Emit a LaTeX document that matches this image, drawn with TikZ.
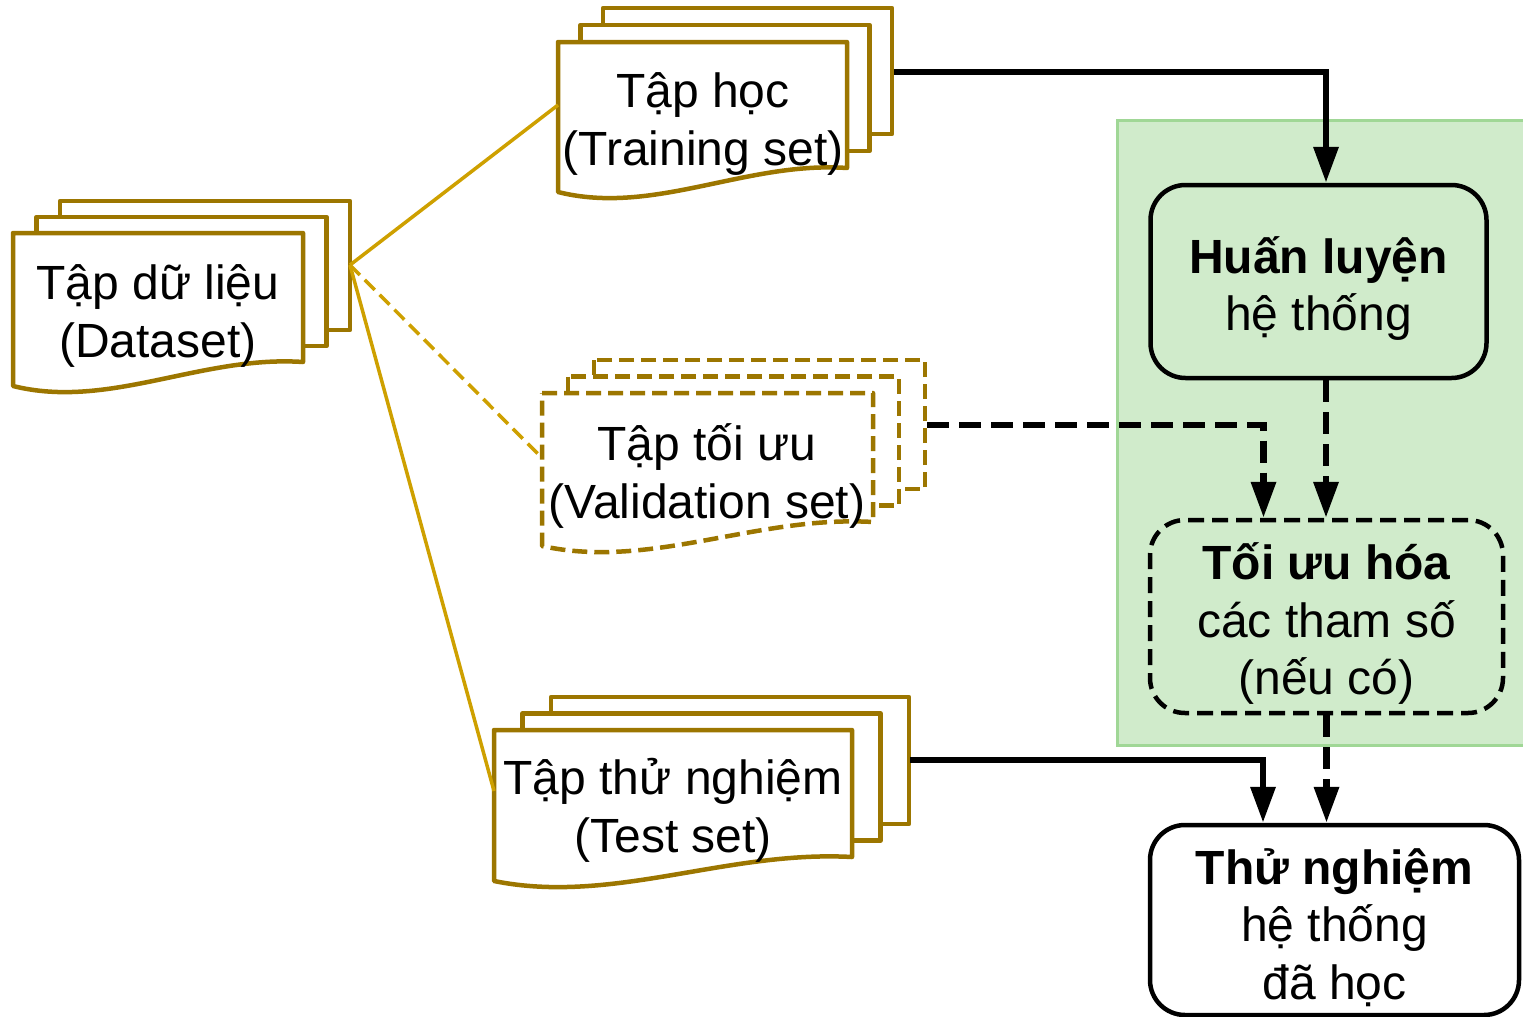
\documentclass[tikz,border=0pt]{standalone}
\usepackage{fontspec}
\setmainfont{Liberation Sans}
\usetikzlibrary{arrows.meta}
\definecolor{docgold}{RGB}{156,118,0}
\definecolor{linkgold}{RGB}{206,160,0}
\definecolor{zonefill}{RGB}{208,235,203}
\definecolor{zoneedge}{RGB}{160,215,150}
% x0 y0 w h dx dy style
\newcommand\multidoc[7]{%
  \draw[#7] ({#1+2*#5},{#2-2*#6}) rectangle ++(#3,#4);
  \draw[#7] ({#1+#5},{#2-#6}) rectangle ++(#3,#4);
  \draw[#7] (#1,#2) -- ++(#3,0) -- ++(0,#4)
     .. controls ({#1+0.65*#3},{#2+#4-7}) and ({#1+0.33*#3},{#2+#4+48}) .. (#1,{#2+#4+24}) -- cycle;
}
\newcommand\topstrut{\rule{0pt}{51pt}}
\tikzset{
  docline/.style={draw=docgold, line width=4.5pt, fill=white, line join=round},
  docdash/.style={docline, dash pattern=on 15pt off 7pt},
  txt/.style={font=\fontsize{48}{57.6}\selectfont, align=center, inner sep=0pt},
  link/.style={draw=linkgold, line width=3.5pt},
  linkdash/.style={link, dash pattern=on 14pt off 7pt},
  flow/.style={draw=black, line width=6.5pt, -{Triangle[length=36pt,width=24pt]}},
  flowdash/.style={flow, dash pattern=on 22pt off 10pt},
  stage/.style={draw=black, line width=4.5pt, rounded corners=35pt, inner sep=0pt,
    font=\fontsize{48}{57.6}\selectfont, align=center},
}
\begin{document}
\begin{tikzpicture}[x=1pt,y=-1pt]
\useasboundingbox (0,0) rectangle (1523,1017);
% green zone
\path[draw=zoneedge, fill=zonefill, line width=3pt] (1117,120) rectangle (1530,745);
% document stacks
\multidoc{13}{233}{290}{129}{23.5}{16}{docline}
\multidoc{558}{42}{289}{126}{22.5}{17}{docline}
\multidoc{542}{393}{331}{129}{26}{16.5}{docdash}
\multidoc{494}{730}{358}{127}{28.5}{16.5}{docline}
\node[txt] (ds) at (158,316) {Tập dữ liệu\\(Dataset)};
\node[txt] (tr) at (703,124) {Tập học\\(Training set)};
\node[txt] (va) at (707,476) {Tập tối ưu\\(Validation set)};
\node[txt] (te) at (673,810.5) {Tập thử nghiệm\\(Test set)};
% connection points on the stacks
\coordinate (ds-out) at (350,265);
\coordinate (tr-in) at (558,105);
\coordinate (va-in) at (542,458);
\coordinate (te-in) at (494,791);
\coordinate (tr-out) at (894,72);
\coordinate (va-out) at (927,425);
\coordinate (te-out) at (910,760);
% split links
\draw[link] (ds-out) -- (tr-in);
\draw[linkdash] (ds-out) -- (va-in);
\draw[link] (ds-out) -- (te-in);
% stages
\node[stage, minimum width=336pt, minimum height=193pt] (hl) at (1318.5,281.5)
  {\topstrut\bfseries Huấn luyện\\hệ thống};
\node[stage, dash pattern=on 16pt off 8pt, minimum width=353pt, minimum height=193pt] (to) at (1326.5,616.5)
  {\topstrut\bfseries Tối ưu hóa\\các tham số\\(nếu có)};
\node[stage, fill=white, minimum width=369pt, minimum height=190pt] (tn) at (1334.5,920)
  {\topstrut\bfseries Thử nghiệm\\hệ thống\\đã học};
% flows
\draw[flow] (tr-out) -| ([xshift=7.5pt]hl.north);
\draw[flowdash] ([xshift=7.5pt]hl.south) -- ([xshift=7.5pt]hl.south |- to.north);
\draw[flowdash] (va-out) -| ([xshift=-63pt]to.north);
\draw[flowdash] (to.south) -- (to.south |- tn.north);
\draw[flow] (te-out) -| ([xshift=-71.5pt]tn.north);
\end{tikzpicture}
\end{document}
